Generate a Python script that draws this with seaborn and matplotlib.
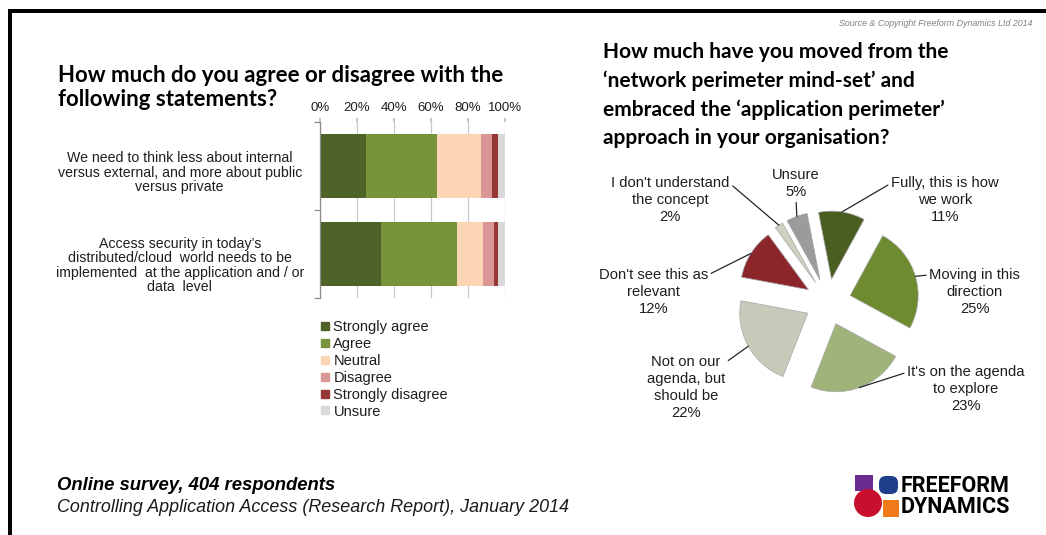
import numpy as np
import pandas as pd
import matplotlib
matplotlib.use("Agg")
import matplotlib.pyplot as plt
import matplotlib.transforms as mtransforms
import seaborn as sns
from matplotlib.patches import Rectangle, Circle, FancyBboxPatch
from matplotlib.lines import Line2D
from matplotlib.ticker import FixedLocator

# ---------------- data ----------------
statements = [
    "We need to think less about internal\nversus external, and more about public\nversus private",
    "Access security in today\u2019s\ndistributed/cloud  world needs to be\nimplemented  at the application and / or\ndata  level",
]
responses = ["Strongly agree", "Agree", "Neutral", "Disagree", "Strongly disagree", "Unsure"]
strongly_agree = [25, 33]
agree = [38, 41]
neutral = [24, 14]
disagree = [6, 6]
strongly_disagree = [3, 2]
unsure = [4, 4]
bar_colors = ["#4f6228", "#77933c", "#fcd5b5", "#d99694", "#953735", "#d9d9d9"]
x_ticks = [0, 20, 40, 60, 80, 100]

pie_labels = [
    "Fully, this is how\nwe work",
    "Moving in this\ndirection",
    "It's on the agenda\nto explore",
    "Not on our\nagenda, but\nshould be",
    "Don't see this as\nrelevant",
    "I don't understand\nthe concept",
    "Unsure",
]
pie_values = [11, 25, 23, 22, 12, 2, 5]
pie_colors = ["#4b5e22", "#6e8c2f", "#a0b37b", "#c6cbb9", "#8c262b", "#cdd1c0", "#9b9b9b"]

# ---------------- style ----------------
sns.set_theme(style="white")
plt.rcParams["font.family"] = ["Liberation Sans", "DejaVu Sans"]
TXT = "#1e1e1e"

fig = plt.figure(figsize=(10.46, 5.35), dpi=100)
fig.patch.set_facecolor("white")

# background overlay in pixel coordinates (decorations, titles)
bg = fig.add_axes([0, 0, 1, 1], zorder=0)
bg.set_xlim(0, 1046)
bg.set_ylim(535, 0)
bg.axis("off")

# frame
bg.add_patch(Rectangle((8, 9), 1040, 4, color="black", lw=0))
bg.add_patch(Rectangle((8, 9), 4, 530, color="black", lw=0))

bg.text(1032, 23, "Source & Copyright Freeform Dynamics Ltd 2014", ha="right", va="center",
        fontsize=6.4, style="italic", color="#808080")

# titles
left_title = ["How much do you agree or disagree with the", "following statements?"]
for i, line in enumerate(left_title):
    bg.text(58, 75 + 24.5 * i, line, ha="left", va="center", fontsize=16,
            fontweight="bold", family=["Lato", "DejaVu Sans"], color="black")
right_title = ["How much have you moved from the", "\u2018network perimeter mind-set\u2019 and",
               "embraced the \u2018application perimeter\u2019", "approach in your organisation?"]
for i, line in enumerate(right_title):
    bg.text(603, 52 + 28.7 * i, line, ha="left", va="center", fontsize=15,
            fontweight="bold", family=["Lato", "DejaVu Sans"], color="black")

# footer
bg.text(57, 485, "Online survey, 404 respondents", ha="left", va="center", fontsize=13.3,
        fontweight="bold", style="italic", color="black")
bg.text(57, 508, "Controlling Application Access (Research Report), January 2014", ha="left",
        va="center", fontsize=12.9, style="italic", color="#1a1a1a")

# logo
bg.add_patch(Rectangle((855, 475), 18, 16, color="#6a2c91", lw=0))
bg.add_patch(FancyBboxPatch((879, 476), 19, 18, boxstyle="round,pad=0,rounding_size=7",
                            color="#1f3f8a", lw=0))
bg.add_patch(Rectangle((883, 500), 16, 17, color="#f07a1a", lw=0))
bg.add_patch(Circle((868, 503), 14, color="#c8102e", lw=0))
bg.text(901, 486, "FREEFORM", ha="left", va="center", fontsize=15.5, fontweight="bold",
        family=["Liberation Sans Narrow", "Roboto", "DejaVu Sans"], color="black")
bg.text(901, 507, "DYNAMICS", ha="left", va="center", fontsize=15.5, fontweight="bold",
        family=["Liberation Sans Narrow", "Roboto", "DejaVu Sans"], color="black")

# ---------------- stacked bar chart ----------------
df = pd.DataFrame({"statement": statements,
                   "Strongly agree": strongly_agree, "Agree": agree, "Neutral": neutral,
                   "Disagree": disagree, "Strongly disagree": strongly_disagree, "Unsure": unsure})
cum = df[responses].cumsum(axis=1)

ax = fig.add_axes([320 / 1046, 1 - 298 / 535, 185 / 1046, 176 / 535], zorder=2)
ax.set_facecolor("none")
for resp, col in reversed(list(zip(responses, bar_colors))):
    sns.barplot(x=cum[resp], y=df["statement"], orient="h", color=col, width=0.73,
                saturation=1, errorbar=None, linewidth=0, ax=ax, zorder=2)

ax.set_xlim(0, 100)
ax.set_ylim(1.5, -0.5)
ax.xaxis.tick_top()
ax.set_xticks(x_ticks)
ax.set_xticklabels([f"{t}%" for t in x_ticks], fontsize=9.5, color=TXT)
ax.tick_params(axis="x", length=3, color="#bfbfbf", pad=3, top=True, bottom=False)
ax.set_xlabel("")
ax.set_ylabel("")
ax.set_axisbelow(True)
ax.grid(axis="x", color="#c8c8c8", lw=0.9)
ax.grid(axis="y", visible=False)
for s in ["top", "right", "bottom"]:
    ax.spines[s].set_visible(False)
ax.spines["left"].set_color("#8c8c8c")
ax.spines["left"].set_linewidth(0.9)
ax.tick_params(axis="y", which="major", length=0, pad=101, labelsize=10.2, labelcolor=TXT)
label_shift_px = [5, 10]
for lab, dy in zip(ax.get_yticklabels(), label_shift_px):
    lab.set_horizontalalignment("center")
    lab.set_multialignment("center")
    lab.set_linespacing(1.03)
    lab.set_transform(lab.get_transform() +
                      mtransforms.ScaledTranslation(0, -dy / 100, fig.dpi_scale_trans))
ax.yaxis.set_minor_locator(FixedLocator([-0.5, 0.5, 1.5]))
ax.tick_params(axis="y", which="minor", length=4, color="#8c8c8c", width=0.9, left=True)

handles = [Line2D([], [], marker="s", linestyle="none", markersize=5.5,
                  markerfacecolor=c, markeredgecolor=c) for c in bar_colors]
fig.legend(handles, responses, loc="upper left", bbox_to_anchor=(321 / 1046, 1 - 320 / 535),
           frameon=False, fontsize=10.5, handlelength=0.5, handletextpad=0.35, labelspacing=0.2,
           borderpad=0, borderaxespad=0, labelcolor=TXT)

# ---------------- exploded pie ----------------
cx, cy, r = 828, 302, 68
half = 1.6 * r
pax = fig.add_axes([(cx - half) / 1046, 1 - (cy + half) / 535, 2 * half / 1046, 2 * half / 535],
                   zorder=2)
wedges, _ = pax.pie(pie_values, colors=pie_colors, startangle=101, counterclock=False,
                    explode=[0.34] * len(pie_values),
                    wedgeprops=dict(edgecolor="#a6a6a6", linewidth=0.5))
pax.set_xlim(-1.6, 1.6)
pax.set_ylim(-1.6, 1.6)
pax.set_aspect("equal")
pax.axis("off")

text_pos = [(1.72, 1.50), (2.16, 0.15), (2.03, -1.28), (-2.09, -1.26),
            (-2.57, 0.15), (-2.32, 1.50), (-0.47, 1.74)]
rel_pos = [(0, 0.85), (0, 0.85), (0, 0.85), (1, 0.88), (1, 0.85), (1, 0.85), (0.5, 0)]
for w, lab, val, tp, rp in zip(wedges, pie_labels, pie_values, text_pos, rel_pos):
    th = np.deg2rad((w.theta1 + w.theta2) / 2)
    anchor = (w.center[0] + w.r * np.cos(th), w.center[1] + w.r * np.sin(th))
    pax.annotate(f"{lab}\n{val}%", xy=anchor, xytext=tp, ha="center", va="center",
                 multialignment="center", fontsize=10.6, linespacing=1.28, color=TXT,
                 annotation_clip=False,
                 arrowprops=dict(arrowstyle="-", color="#262626", lw=0.9,
                                 shrinkA=0, shrinkB=0, relpos=rp))

fig.savefig("out.png", dpi=100, facecolor="white")
